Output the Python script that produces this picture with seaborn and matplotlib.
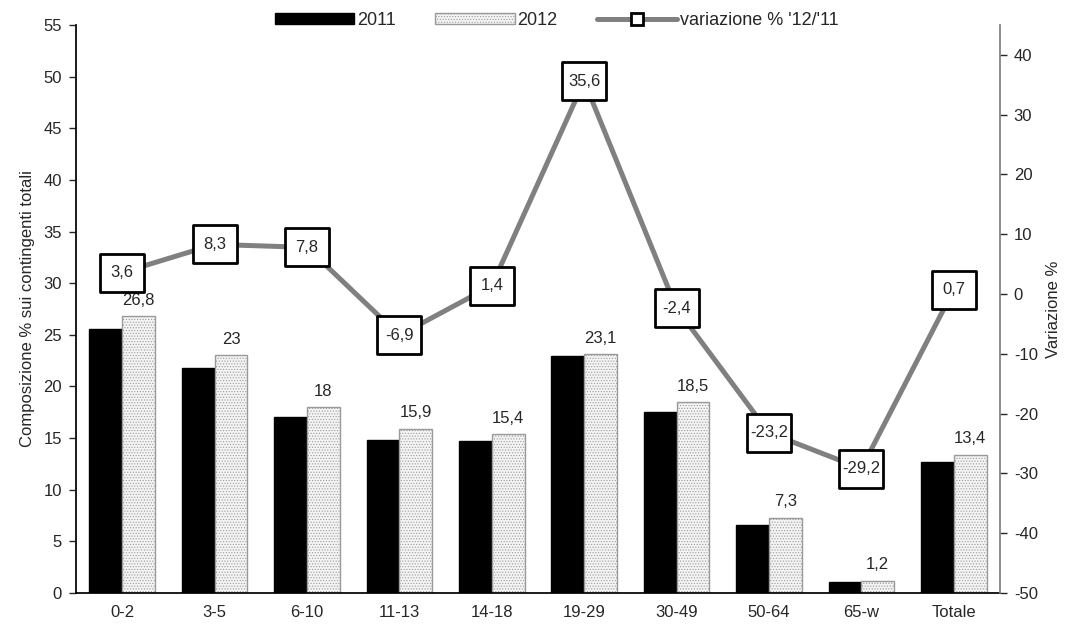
import matplotlib

matplotlib.use("Agg")
import matplotlib.pyplot as plt
import pandas as pd
import seaborn as sns
from matplotlib.lines import Line2D
from matplotlib.patches import Patch
from matplotlib.path import Path

categories = ["0-2", "3-5", "6-10", "11-13", "14-18", "19-29", "30-49", "50-64", "65-w", "Totale"]
share_2011 = [25.6, 21.8, 17.0, 14.8, 14.7, 22.9, 17.5, 6.6, 1.1, 12.7]
share_2012 = [26.8, 23.0, 18.0, 15.9, 15.4, 23.1, 18.5, 7.3, 1.2, 13.4]
variation = [3.6, 8.3, 7.8, -6.9, 1.4, 35.6, -2.4, -23.2, -29.2, 0.7]

sns.set_theme(style="white")
plt.rcParams["font.family"] = ["Liberation Sans", "DejaVu Sans"]
plt.rcParams["axes.unicode_minus"] = False
plt.rcParams["hatch.linewidth"] = 0.5
plt.rcParams["hatch.color"] = "#b8b8b8"

FS = 12


def fmt(v):
    return f"{v:g}".replace(".", ",")


def style_2012(patch):
    patch.set_facecolor("#f4f4f4")
    patch.set_hatch("......")
    try:
        patch.set_hatchcolor("#b8b8b8")
        patch.set_edgecolor("#808080")
    except AttributeError:
        patch.set_edgecolor("#9a9a9a")


bars = pd.DataFrame(
    {
        "categoria": categories * 2,
        "anno": ["2011"] * len(categories) + ["2012"] * len(categories),
        "valore": share_2011 + share_2012,
    }
)
line = pd.DataFrame({"categoria": categories, "variazione": variation})

fig = plt.figure(figsize=(10.66, 6.24), dpi=100)
ax = fig.add_axes([0.0713, 0.0497, 0.8667, 0.9103])

sns.barplot(
    data=bars, x="categoria", y="valore", hue="anno", order=categories,
    palette={"2011": "black", "2012": "#f4f4f4"}, width=0.71, gap=0,
    saturation=1, legend=False, ax=ax,
)
n = len(categories)
for i, patch in enumerate(ax.patches[: 2 * n]):
    if i < n:
        patch.set_edgecolor("black")
    else:
        style_2012(patch)
    patch.set_linewidth(1.0)

for i, val in enumerate(share_2012):
    p = ax.patches[n + i]
    ax.annotate(fmt(val), (p.get_x() + p.get_width() / 2, p.get_height()),
                xytext=(0, 6), textcoords="offset points", ha="center", va="bottom",
                fontsize=FS)

ax.set_ylim(0, 55)
ax.set_yticks(range(0, 56, 5))
ax.set_xlim(-0.5, n - 0.5)
ax.set_xlabel("")
ax.set_ylabel("Composizione % sui contingenti totali", fontsize=FS, labelpad=6)
ax.tick_params(axis="y", length=5, width=1, direction="out", left=True, labelsize=FS, pad=5)
ax.tick_params(axis="x", length=0, labelsize=FS, pad=9)
for side in ["top", "right"]:
    ax.spines[side].set_visible(False)
ax.spines["left"].set_color("black")
ax.spines["bottom"].set_color("black")

ax2 = ax.twinx()
sns.pointplot(
    data=line, x="categoria", y="variazione", order=categories, color="#808080",
    markers="", linestyles="-", linewidth=3.6, ax=ax2,
)
box = Path([(-22, -19), (22, -19), (22, 19), (-22, 19), (-22, -19)],
           [Path.MOVETO, Path.LINETO, Path.LINETO, Path.LINETO, Path.CLOSEPOLY])
sns.scatterplot(
    data=line, x="categoria", y="variazione", marker=box, s=31.7 ** 2,
    color="white", edgecolor="black", linewidth=2, zorder=4, legend=False, ax=ax2,
)
ax2.set_xlim(-0.5, n - 0.5)
ax2.set_ylim(-50, 45)
ax2.set_yticks(range(-50, 41, 10))
ax2.set_xlabel("")
ax2.set_ylabel("Variazione %", fontsize=FS, labelpad=6)
ax2.tick_params(axis="y", length=5, width=1, direction="out", right=True, labelsize=FS, pad=5)
for side in ["top", "left", "bottom"]:
    ax2.spines[side].set_visible(False)
ax2.spines["right"].set_color("#808080")

for i, val in enumerate(variation):
    ax2.text(i, val, fmt(val), ha="center", va="center", fontsize=FS, zorder=5)

leg_2012 = Patch(facecolor="#f4f4f4", edgecolor="#9a9a9a", hatch="......", label="2012")
handles = [
    Patch(facecolor="black", edgecolor="black", label="2011"),
    leg_2012,
    Line2D([0], [0], color="#808080", lw=3.6, marker="s", markersize=9,
           markerfacecolor="white", markeredgecolor="black", markeredgewidth=2,
           label="variazione % '12/'11"),
]
fig.legend(handles=handles, loc="center", bbox_to_anchor=(0.522, 0.967), ncol=3,
           frameon=False, fontsize=13, handlelength=4.4, handleheight=0.6,
           handletextpad=0.15, columnspacing=2.2)

fig.savefig("out.png", dpi=100)
